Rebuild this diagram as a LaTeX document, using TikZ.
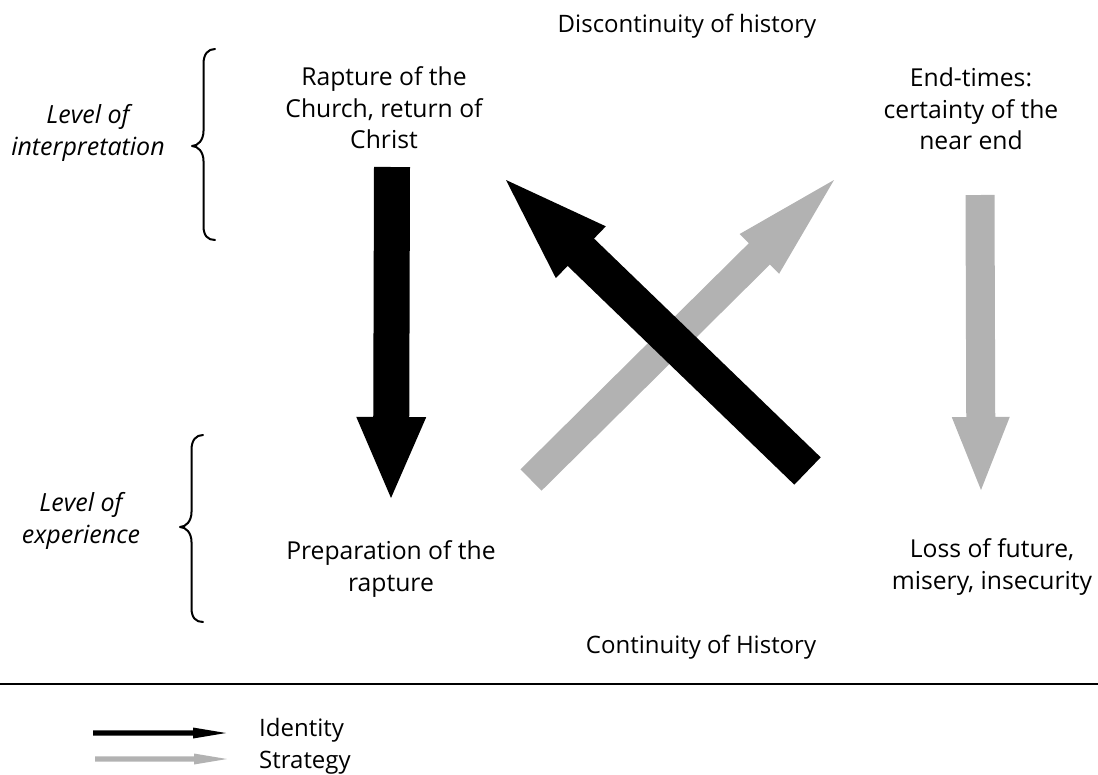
\documentclass[tikz,border=0pt]{standalone}
\usepackage{fontspec}
\setmainfont{Open Sans}
\usetikzlibrary{calc}
\definecolor{stratgray}{RGB}{178,178,178}

% filled block arrow: style, tail, tip, half shaft width, half head width, head length
\newcommand\blockarrow[6]{%
  \path ($(#3)!#6!(#2)$) coordinate (ba-h);
  \fill[#1] ($(#2)!#4!90:(#3)$) -- ($(ba-h)!#4!90:(#3)$) -- ($(ba-h)!#5!90:(#3)$)
    -- (#3) -- ($(ba-h)!#5!-90:(#3)$) -- ($(ba-h)!#4!-90:(#3)$)
    -- ($(#2)!#4!-90:(#3)$) -- cycle;}

\begin{document}
\begin{tikzpicture}[x=1pt,y=-1pt,
  lbl/.style={align=center,inner sep=0pt,font=\fontsize{24}{31.5}\selectfont},
  state/.style={lbl,font=\fontsize{24.7}{31.5}\selectfont},
  lvl/.style={lbl,font=\fontsize{25}{31.5}\selectfont\itshape},
  legtxt/.style={inner sep=0pt,anchor=base west,font=\fontsize{24}{31.5}\selectfont},
  brace/.style={draw,line width=2pt,line cap=round,line join=round},
  identity/.style={black},
  strategy/.style={stratgray}]
\useasboundingbox (0,0) rectangle (1098,774);

% axis titles
\node[lbl] (disc) at (687,26) {Discontinuity of history};
\node[lbl] (cont) at (701,647) {Continuity of History};

% four states
\node[state] (rapture) at (384,108) {Rapture of the\\Church, return of\\Christ};
\node[state] (endtimes) at (971,109) {End-times:\\certainty of the\\near end};
\node[state] (prep) at (391,569) {Preparation of the\\rapture};
\node[state] (loss) at (992,567) {Loss of future,\\misery, insecurity};

% levels with braces
\node[lvl] (interp) at (88,133) {Level of\\interpretation};
\node[lvl] (exper) at (81,521) {Level of\\experience};
\draw[brace] (215,49) .. controls (208,49) and (203.5,54) .. (203.5,64) -- (203.5,131)
  .. controls (203.5,140) and (198,146) .. (192,146)
  .. controls (198,146) and (203.5,152) .. (203.5,161) -- (203.5,226)
  .. controls (203.5,236) and (208,240) .. (215,240);
\draw[brace] (203,435) .. controls (196,435) and (191.5,440) .. (191.5,450) -- (191.5,512)
  .. controls (191.5,521) and (186,527) .. (180,527)
  .. controls (186,527) and (191.5,533) .. (191.5,542) -- (191.5,608)
  .. controls (191.5,618) and (196,622) .. (203,622);

% arrow end points
\coordinate (rapT) at (392,167);
\coordinate (rapB) at (391,498);
\coordinate (lossT) at (980,195);
\coordinate (lossB) at (981,490);
\coordinate (idTail) at (807.5,471);
\coordinate (idTip) at (506,180);
\coordinate (stTail) at (531,480);
\coordinate (stTip) at (834,180);

\blockarrow{strategy}{lossT}{lossB}{14.5pt}{29pt}{73pt}
\blockarrow{strategy}{stTail}{stTip}{15pt}{28pt}{105pt}
\blockarrow{identity}{rapT}{rapB}{18pt}{35pt}{81pt}
\blockarrow{identity}{idTail}{idTip}{19pt}{36pt}{104pt}

% separator
\coordinate (sepL) at (0,684);
\coordinate (sepR) at (1098,684);
\draw[line width=1.3pt] (sepL) -- (sepR);

% legend
\coordinate (legIdA) at (93,733);
\coordinate (legIdB) at (226,733);
\coordinate (legStA) at (95,759);
\coordinate (legStB) at (227,759);
\blockarrow{identity}{legIdA}{legIdB}{2.6pt}{5.5pt}{33pt}
\blockarrow{strategy}{legStA}{legStB}{2.6pt}{5.5pt}{33pt}
\node[legtxt] (legId) at (259,736) {Identity};
\node[legtxt] (legSt) at (259,768) {Strategy};
\end{tikzpicture}
\end{document}
